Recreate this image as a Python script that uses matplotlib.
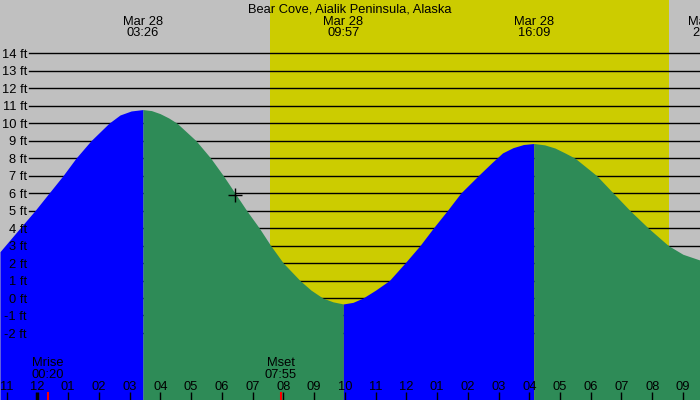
import matplotlib
matplotlib.use('Agg')
import matplotlib.pyplot as plt

# hours from midnight Mar 28 and tide height in ft
horas = [-1.218, -0.567, -0.079, 0.376, 0.832, 1.254, 1.742, 2.328, 2.686, 3.05,
         3.433, 3.71, 3.987, 4.27, 4.540, 5.158, 5.636, 6.046, 6.427, 6.807,
         7.217, 7.588, 7.998, 8.541, 8.9, 9.280, 9.615, 9.950, 10.265, 10.591,
         11.0, 11.447, 11.957, 12.445, 12.878, 13.333, 13.769, 14.342, 14.787, 15.13,
         15.471, 15.81, 16.150, 16.5, 16.836, 17.16, 17.487, 18.193, 18.733, 19.277,
         19.872, 20.523, 21.0, 21.554]
altura = [2.65, 4, 5, 6, 7, 8, 9, 10, 10.47, 10.7,
          10.78, 10.72, 10.55, 10.3, 10, 9, 8, 7, 6, 5,
          4, 3, 2, 1, 0.45, 0, -0.22, -0.34, -0.25, 0,
          0.45, 1, 2, 3, 4, 5, 6, 7, 7.75, 8.3,
          8.6, 8.78, 8.84, 8.76, 8.58, 8.3, 8, 7, 6, 5,
          4, 3, 2.5, 2.17]

titulo = 'Bear Cove, Aialik Peninsula, Alaska'
eventos_t = [3.433, 9.950, 16.150, 21.83]
eventos_txt = ['03:26', '09:57', '16:09', '21:50']
eventos_fecha = ['Mar 28', 'Mar 28', 'Mar 28', 'Mar 28']

amanecer = 7.567
atardecer = 20.55

luna_t = [0.333, 7.917]
luna_nombre = ['Mrise', 'Mset']
luna_txt = ['00:20', '07:55']

marca_t = 6.44
marca_h = 5.9

niveles = list(range(-2, 15))
horas_ticks = list(range(-1, 22))

gris = '#c0c0c0'
amarillo = '#cccc00'
azul = '#0000ff'
verde = '#2e8b57'

plt.rcParams['font.family'] = ['Liberation Sans', 'DejaVu Sans']
fs = 9.3

fig = plt.figure(figsize=(7, 4), dpi=100)
ax = fig.add_axes([0, 0, 1, 1])
ax.set_facecolor(gris)
ax.set_xlim(-1.218, 21.554)
ax.set_ylim(-5.835, 17.048)
ax.axis('off')
fig.patch.set_facecolor(gris)

def py(p):
    # pixel row from top -> axes fraction
    return 1 - p / 400

ax.axvspan(amanecer, atardecer, color=amarillo, lw=0, zorder=0)

yt = ax.get_yaxis_transform()
for n in niveles:
    ax.axhline(n, xmin=29 / 700, xmax=1, color='k', lw=1, zorder=1)
    ax.text(27 / 700, n - 0.265, f'{n} ft', transform=yt,
            ha='right', va='baseline', fontsize=fs, zorder=4)

# relleno azul al subir, verde al bajar
i = 0
while i < len(horas) - 1:
    sube = altura[i + 1] > altura[i]
    j = i + 1
    while j < len(horas) - 1 and (altura[j + 1] > altura[j]) == sube:
        j += 1
    ax.fill_between(horas[i:j + 1], altura[i:j + 1], -10,
                    color=azul if sube else verde, lw=0, zorder=2)
    i = j

ax.plot(marca_t, marca_h, '+', color='k', ms=10, mew=1, zorder=5)

xt = ax.get_xaxis_transform()
ax.text(0.5, py(12.3), titulo, transform=ax.transAxes,
        ha='center', va='baseline', fontsize=fs)
for t, f, s in zip(eventos_t, eventos_fecha, eventos_txt):
    ax.text(t, py(24.8), f, transform=xt,
            ha='center', va='baseline', fontsize=fs, clip_on=False)
    ax.text(t, py(36), s, transform=xt,
            ha='center', va='baseline', fontsize=fs, clip_on=False)

for h in horas_ticks:
    etiqueta = '%02d' % ((h - 1) % 12 + 1)
    ax.text(h, py(390), etiqueta, transform=xt,
            ha='center', va='baseline', fontsize=fs, zorder=4)
    ax.plot([h, h], [0, 8 / 400], transform=xt, color='k',
            lw=2.5 if h == 0 else 1, zorder=4, solid_capstyle='butt')

for t, n, s in zip(luna_t, luna_nombre, luna_txt):
    ax.plot([t, t], [0, 8 / 400], transform=xt, color='red', lw=1.5,
            zorder=4, solid_capstyle='butt')
    ax.text(t, py(366.5), n, transform=xt, ha='center', va='baseline',
            fontsize=fs, zorder=4)
    ax.text(t, py(378), s, transform=xt, ha='center', va='baseline',
            fontsize=fs, zorder=4)

plt.savefig('out.png', dpi=100, facecolor=gris)
